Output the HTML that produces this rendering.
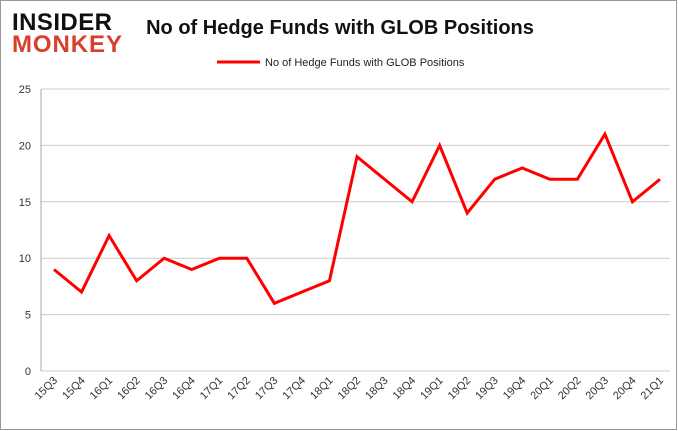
<!DOCTYPE html>
<html><head><meta charset="utf-8"><style>
body{margin:0;background:#fff;font-family:"Liberation Sans",sans-serif}
#wrap{position:relative;width:678px;height:431px;overflow:hidden;background:#fff}
</style></head><body>
<div id="wrap">
<svg id="chart" width="678" height="431" xmlns="http://www.w3.org/2000/svg">
<rect x="0.5" y="0.5" width="676" height="429" fill="#fff" stroke="#999"/>
<text x="12" y="30" font-size="24" font-weight="900" fill="#111" font-family="Liberation Sans" textLength="100">INSIDER</text>
<text x="12" y="52" font-size="24" font-weight="900" fill="#d9402b" font-family="Liberation Sans" textLength="110">MONKEY</text>
<text x="340" y="34" font-size="20" font-weight="bold" text-anchor="middle" fill="#111">No of Hedge Funds with GLOB Positions</text>
<line x1="217" y1="62" x2="260" y2="62" stroke="#f00" stroke-width="3"/>
<text x="265" y="66" font-size="11" fill="#222">No of Hedge Funds with GLOB Positions</text>
<g id="grid"></g><g id="series"></g>
</svg>
</div>
<script>
const categories=["15Q3","15Q4","16Q1","16Q2","16Q3","16Q4","17Q1","17Q2","17Q3","17Q4","18Q1","18Q2","18Q3","18Q4","19Q1","19Q2","19Q3","19Q4","20Q1","20Q2","20Q3","20Q4","21Q1"];
const values=[9,7,12,8,10,9,10,10,6,7,8,19,17,15,20,14,17,18,17,17,21,15,17];
const yTicks=[0,5,10,15,20,25];
const NS="http://www.w3.org/2000/svg";
const x0=41,x1=670,yTop=89,yBot=371,yMax=25;
const xFirst=54,xLast=660;
const step=(xLast-xFirst)/(categories.length-1);
const xs=i=>xFirst+step*i;
const ys=v=>yBot-(v/yMax)*(yBot-yTop);
const grid=document.getElementById('grid'),ser=document.getElementById('series');
function mk(t,a,p){const e=document.createElementNS(NS,t);for(const k in a)e.setAttribute(k,a[k]);p.appendChild(e);return e;}
yTicks.forEach(v=>{
 const l=mk('line',{x1:x0,x2:x1,y1:ys(v),y2:ys(v),stroke:'#ccc'},grid);
 
 
 const t=mk('text',{x:x0-10,y:ys(v)+4,'font-size':11,'text-anchor':'end',fill:'#333'},grid);
 t.textContent=v;
 
 
});
const ax=mk('line',{x1:x0,x2:x0,y1:yTop,y2:yBot,stroke:'#aaa'},grid);


categories.forEach((c,i)=>{
 const x=xs(i);
 const t=mk('text',{x:x+4,y:yBot+10,'font-size':11,'text-anchor':'end',fill:'#333',transform:`rotate(-45 ${x+4} ${yBot+10})`},grid);
 t.textContent=c;
 
 
});
const p=mk('polyline',{points:values.map((v,i)=>xs(i)+','+ys(v)).join(' '),fill:'none',stroke:'#f00','stroke-width':3,'stroke-linejoin':'miter'},ser);


</script>
</body></html>
